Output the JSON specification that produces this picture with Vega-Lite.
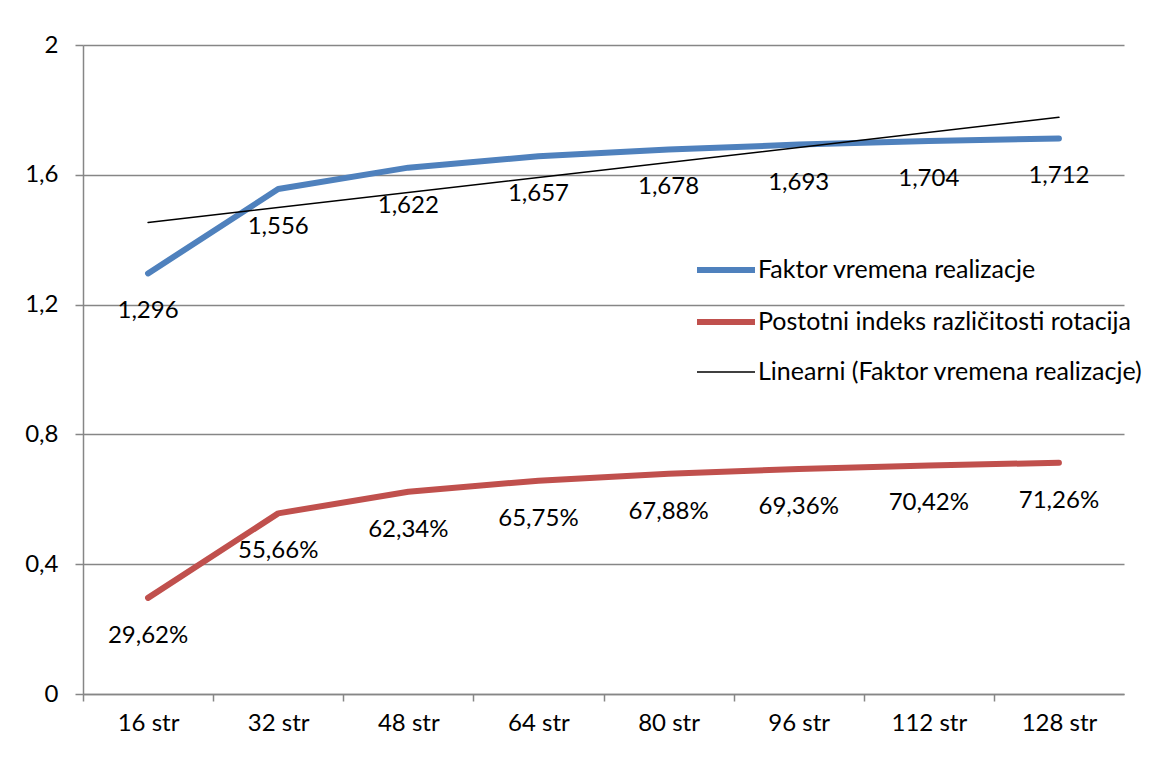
{
  "$schema": "https://vega.github.io/schema/vega-lite/v6.json",
  "width": 1041,
  "height": 649,
  "autosize": "none",
  "padding": {"left": 83, "top": 45, "right": 43, "bottom": 68},
  "background": "white",
  "config": {
    "font": "Lato",
    "view": {"stroke": null},
    "locale": {"number": {"decimal": ",", "thousands": ".", "grouping": [3], "currency": ["", " €"]}}
  },
  "data": {"values": [
    {"cat": "16 str", "series": "Faktor vremena realizacje", "v": 1.296, "lab": "1,296"},
    {"cat": "32 str", "series": "Faktor vremena realizacje", "v": 1.556, "lab": "1,556"},
    {"cat": "48 str", "series": "Faktor vremena realizacje", "v": 1.622, "lab": "1,622"},
    {"cat": "64 str", "series": "Faktor vremena realizacje", "v": 1.657, "lab": "1,657"},
    {"cat": "80 str", "series": "Faktor vremena realizacje", "v": 1.678, "lab": "1,678"},
    {"cat": "96 str", "series": "Faktor vremena realizacje", "v": 1.693, "lab": "1,693"},
    {"cat": "112 str", "series": "Faktor vremena realizacje", "v": 1.704, "lab": "1,704"},
    {"cat": "128 str", "series": "Faktor vremena realizacje", "v": 1.712, "lab": "1,712"},
    {"cat": "16 str", "series": "Postotni indeks različitosti rotacija", "v": 0.2962, "lab": "29,62%"},
    {"cat": "32 str", "series": "Postotni indeks različitosti rotacija", "v": 0.5566, "lab": "55,66%"},
    {"cat": "48 str", "series": "Postotni indeks različitosti rotacija", "v": 0.6234, "lab": "62,34%"},
    {"cat": "64 str", "series": "Postotni indeks različitosti rotacija", "v": 0.6575, "lab": "65,75%"},
    {"cat": "80 str", "series": "Postotni indeks različitosti rotacija", "v": 0.6788, "lab": "67,88%"},
    {"cat": "96 str", "series": "Postotni indeks različitosti rotacija", "v": 0.6936, "lab": "69,36%"},
    {"cat": "112 str", "series": "Postotni indeks različitosti rotacija", "v": 0.7042, "lab": "70,42%"},
    {"cat": "128 str", "series": "Postotni indeks različitosti rotacija", "v": 0.7126, "lab": "71,26%"},
    {"cat": "16 str", "series": "Linearni (Faktor vremena realizacje)", "v": 1.453},
    {"cat": "128 str", "series": "Linearni (Faktor vremena realizacje)", "v": 1.777}
  ]},
  "encoding": {
    "x": {
      "field": "cat", "type": "ordinal", "sort": null,
      "scale": {"type": "point", "padding": 0.5},
      "axis": {
        "title": null, "labelAngle": 0, "grid": false,
        "tickOffset": -65, "labelOffset": 65,
        "domainColor": "#868686", "domainWidth": 1.5, "tickColor": "#868686", "tickWidth": 1.5, "tickSize": 7,
        "labelFont": "Lato", "labelFontSize": 24, "labelColor": "#000000", "labelPadding": 10
      }
    },
    "y": {
      "field": "v", "type": "quantitative",
      "scale": {"domain": [0, 2], "nice": false},
      "axis": {
        "title": null, "values": [0, 0.4, 0.8, 1.2, 1.6, 2], "format": "~g",
        "gridColor": "#868686", "gridWidth": 1.5,
        "domainColor": "#868686", "domainWidth": 1.5, "tickColor": "#868686", "tickWidth": 1.5, "tickSize": 8,
        "labelFont": "Lato", "labelFontSize": 24, "labelColor": "#000000", "labelPadding": 17
      }
    }
  },
  "layer": [
    {
      "mark": {"type": "line", "strokeCap": "round", "strokeJoin": "round"},
      "encoding": {
        "color": {
          "field": "series", "type": "nominal",
          "scale": {"domain": ["Faktor vremena realizacje", "Postotni indeks različitosti rotacija", "Linearni (Faktor vremena realizacje)"], "range": ["#4F81BD", "#C0504D", "#000000"]},
          "legend": {
            "title": null, "orient": "none", "legendX": 611, "legendY": 193,
            "symbolType": "stroke", "symbolSize": 3364,
            "labelFont": "Lato", "labelFontSize": 25, "labelColor": "#000000", "labelOffset": 0,
            "rowPadding": 7, "labelLimit": 600
          }
        },
        "strokeWidth": {
          "field": "series", "type": "nominal",
          "scale": {"type": "ordinal", "domain": ["Faktor vremena realizacje", "Postotni indeks različitosti rotacija", "Linearni (Faktor vremena realizacje)"], "range": [6, 6, 1.5]},
          "legend": {
            "title": null, "orient": "none", "legendX": 611, "legendY": 193,
            "symbolType": "stroke", "symbolSize": 3364,
            "labelFont": "Lato", "labelFontSize": 25, "labelColor": "#000000", "labelOffset": 0,
            "rowPadding": 7, "labelLimit": 600
          }
        }
      }
    },
    {
      "transform": [{"filter": "datum.lab != null"}],
      "mark": {"type": "text", "dy": 38, "font": "Lato", "fontSize": 24, "color": "#000000"},
      "encoding": {"text": {"field": "lab"}}
    }
  ]
}
